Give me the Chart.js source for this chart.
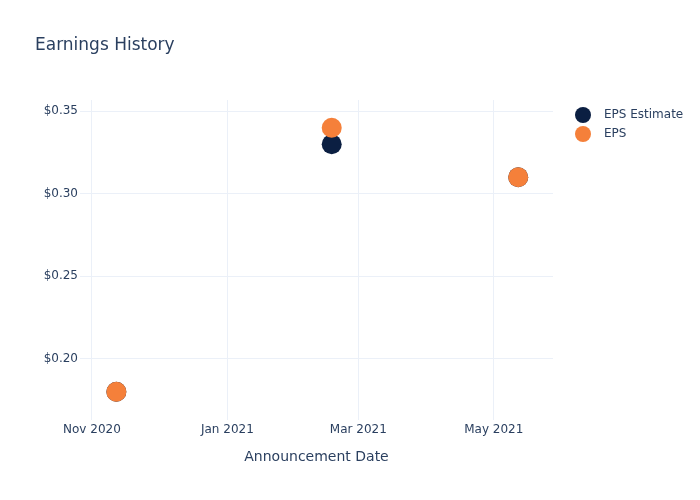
<!DOCTYPE html>
<html>
<head>
<meta charset="utf-8">
<script src="https://cdn.jsdelivr.net/npm/chart.js@4.4.1/dist/chart.umd.min.js"></script>
<style>
  html, body { margin: 0; padding: 0; background: #fff; }
  #wrap { width: 700px; height: 500px; }
</style>
</head>
<body>
<div id="wrap"><canvas id="eh"></canvas></div>
<script>
// announcement dates and eps values
const dates = ["2020-11-12", "2021-02-17", "2021-05-12"];
const epsEstimate = [0.18, 0.33, 0.31];
const eps = [0.18, 0.34, 0.31];

// axis ticks
const xTicks = ["2020-11-01", "2021-01-01", "2021-03-01", "2021-05-01"];
const xTickLabels = ["Nov 2020", "Jan 2021", "Mar 2021", "May 2021"];
const yTicks = [0.20, 0.25, 0.30, 0.35];

const ink = "#2a3f5f";
const gridCol = "#ebf0f8";
const font = "DejaVu Sans";
const HOUR = 3600 * 1000;

function toTime(d) {
    const p = d.split("-");
    return Date.UTC(+p[0], +p[1] - 1, +p[2]);
}

function points(vals) {
    return vals.map(function(v, i){
        return { x: toTime(dates[i]), y: v };
    });
}

// legend drawn at the right like the original
const sideLegend = {
    id: "sideLegend",
    afterDraw(chart) {
        const ctx = chart.ctx;
        ctx.save();
        chart.data.datasets.forEach(function(ds, i){
            const y = 115 + i * 19;
            ctx.beginPath();
            ctx.arc(583, y, 8, 0, Math.PI * 2);
            ctx.fillStyle = ds.backgroundColor;
            ctx.fill();
            ctx.fillStyle = ink;
            ctx.font = "12px '" + font + "'";
            ctx.textBaseline = "middle";
            ctx.textAlign = "left";
            ctx.fillText(ds.label, 604, y);
        });
        ctx.restore();
    }
};

const canvas = document.getElementById("eh");

const cfg = {
    type: "scatter",
    data: {
        datasets: [
            {
                label: "EPS Estimate",
                data: points(epsEstimate),
                backgroundColor: "#0b1f42",
                pointRadius: 10,
                pointBorderWidth: 0,
                order: 1
            },
            {
                label: "EPS",
                data: points(eps),
                backgroundColor: "#f5803a",
                pointRadius: 10,
                pointBorderWidth: 0,
                order: 0
            }
        ]
    },
    options: {
        responsive: true,
        maintainAspectRatio: false,
        animation: false,
        events: [],
        layout: { padding: { left: 35, right: 147, top: 0, bottom: 0 } },
        plugins: {
            legend: { display: false },
            tooltip: { enabled: false },
            title: {
                display: true,
                text: "Earnings History",
                align: "start",
                color: ink,
                font: { family: font, size: 17, weight: "normal" },
                padding: { top: 35, bottom: 44.6 }
            }
        },
        scales: {
            x: {
                type: "linear",
                min: toTime("2020-10-26") + 15 * HOUR,
                max: toTime("2021-05-27") + 16 * HOUR,
                afterBuildTicks(scale) {
                    scale.ticks = xTicks.map(function(d){ return { value: toTime(d) }; });
                },
                afterFit(scale) { scale.height = 80; },
                ticks: {
                    color: ink,
                    font: { family: font, size: 12 },
                    padding: 3,
                    maxRotation: 0,
                    autoSkip: false,
                    callback: function(v, i) { return xTickLabels[i]; }
                },
                grid: { color: gridCol, drawTicks: false },
                border: { display: false },
                title: {
                    display: true,
                    text: "Announcement Date",
                    color: ink,
                    font: { family: font, size: 14 },
                    padding: { top: 0, bottom: 34.6 }
                }
            },
            y: {
                min: 0.1629,
                max: 0.3568,
                afterBuildTicks(scale) {
                    scale.ticks = yTicks.map(function(v){ return { value: v }; });
                },
                afterFit(scale) { scale.width = 45; },
                ticks: {
                    color: ink,
                    font: { family: font, size: 12 },
                    padding: 2,
                    callback: function(v) { return "$" + v.toFixed(2); }
                },
                grid: { color: gridCol, drawTicks: false },
                border: { display: false }
            }
        }
    },
    plugins: [sideLegend]
};

const chart = new Chart(canvas, cfg);
</script>
</body>
</html>
